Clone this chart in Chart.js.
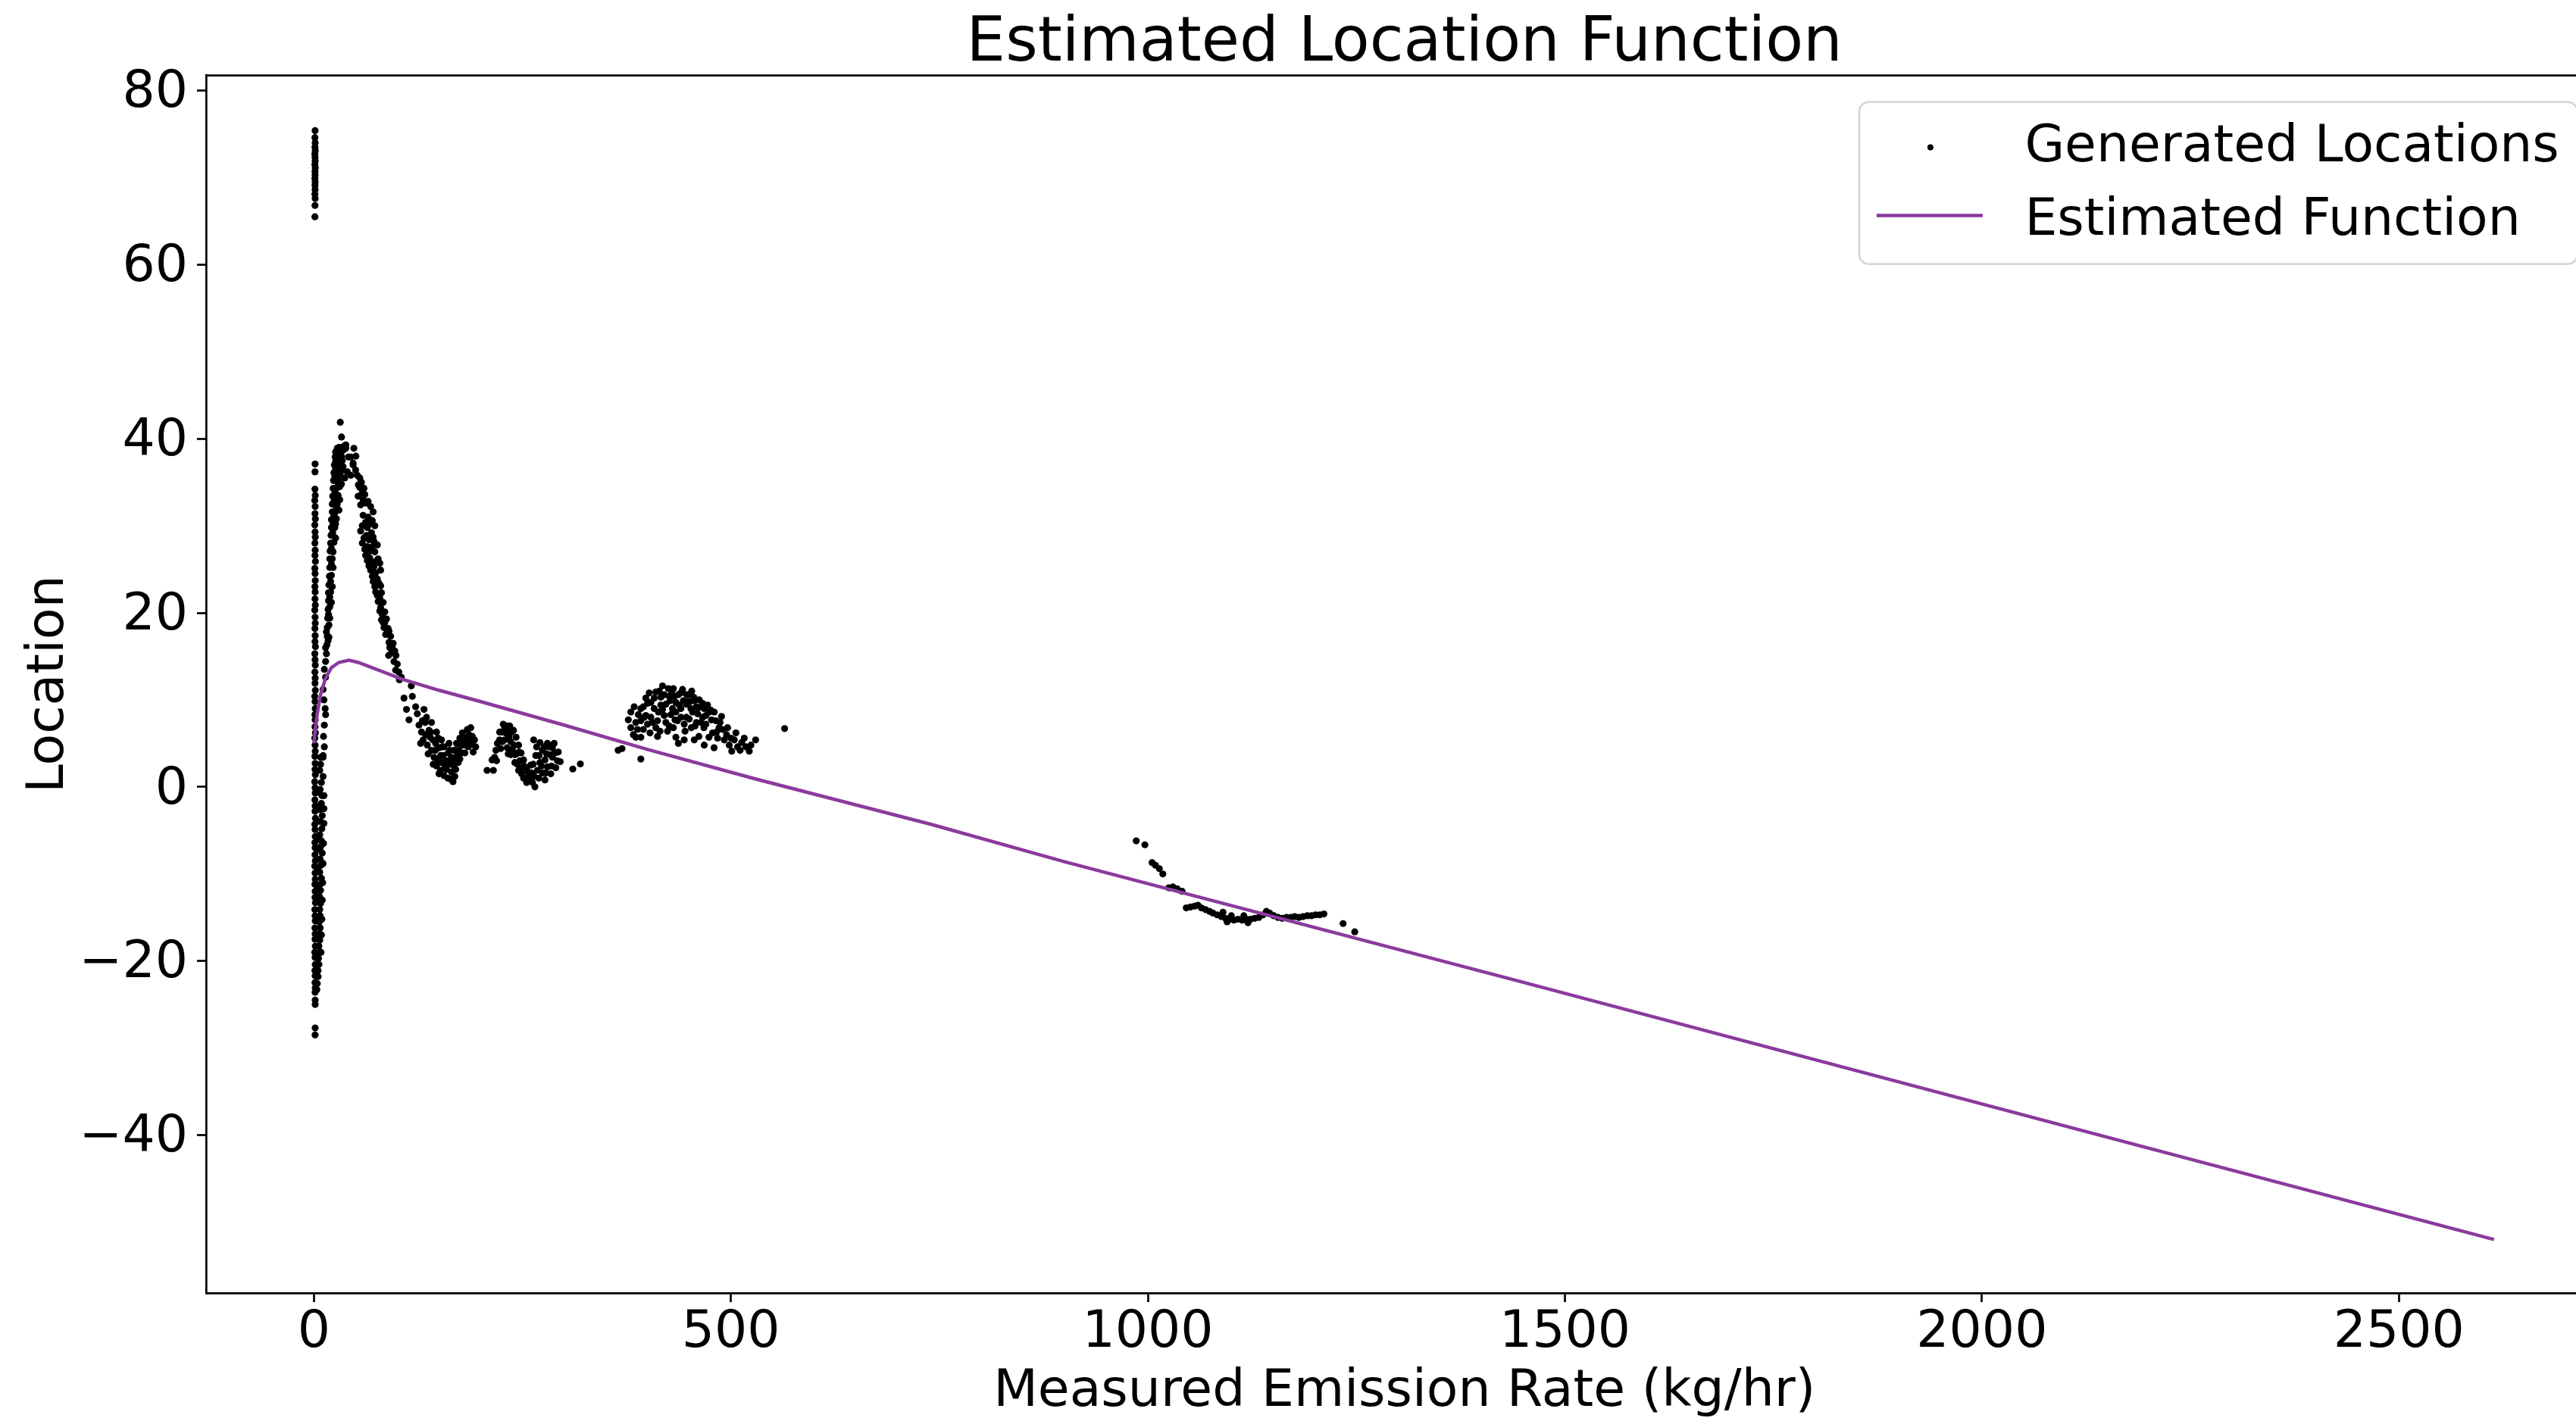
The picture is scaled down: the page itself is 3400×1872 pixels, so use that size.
<!DOCTYPE html>
<html>
<head>
<meta charset="utf-8">
<script src="https://cdn.jsdelivr.net/npm/chart.js@4.4.1/dist/chart.umd.min.js"></script>
<style>
  html, body { margin: 0; padding: 0; background: #fff; overflow: hidden; width: 3400px; height: 1872px; }
  canvas { display: block; }
</style>
</head>
<body>
<canvas id="locChart" width="3440" height="1872"></canvas>
<script>
// ---- data ----
const xTicks = [0, 500, 1000, 1500, 2000, 2500];
const yTicks = [-40, -20, 0, 20, 40, 60, 80];

// estimated function (x = emission rate, y = location)
const fnX = [0, 2, 4, 8, 14, 21, 30, 42, 53, 75, 105, 150, 200, 300, 400, 530, 740, 900, 1440, 2160, 2614];
const fnY = [5.0, 6.8, 8.4, 10.6, 12.5, 13.7, 14.3, 14.55, 14.3, 13.5, 12.4, 11.1, 9.8, 7.1, 4.3, 0.9, -4.3, -8.6, -22.2, -40.5, -52.0];

// generated locations, one array per visible group of points
const spikeTop = [[1.4,75.4],[1.2,74.6],[1.5,74.0],[1.3,73.5],[1.6,73.1],[1.1,72.7],[1.4,72.3],[1.5,71.9],[1.2,71.5],[1.6,71.1],
  [1.3,70.7],[1.4,70.3],[1.2,69.9],[1.5,69.5],[1.3,69.1],[1.4,68.6],[1.2,68.1],[1.5,67.6],[1.3,66.8],[1.2,65.5]];

const stripNearZero = [[1.4,37.1],[1.3,36.2],[1.2,34.2],[1.6,33.5],[1.0,32.9],[1.5,32.2],[1.3,31.4],[1.7,30.8],[1.1,30.1],[1.4,29.3],
  [1.6,28.7],[1.2,28.0],[1.5,27.2],[1.3,26.6],[1.8,25.9],[1.1,25.1],[1.4,24.5],[1.6,23.7],[1.2,23.0],[1.5,22.4],
  [1.3,21.6],[1.7,20.9],[1.0,20.3],[1.4,19.5],[1.6,18.8],[1.2,18.2],[1.5,17.4],[1.3,16.7],[1.8,16.1],[1.1,15.3],
  [1.4,14.6],[1.6,14.0],[1.2,13.2],[1.5,12.5],[1.3,11.9],[1.7,11.1],[1.0,10.4],[1.4,9.8],[1.6,9.0],[1.2,8.3],
  [1.5,7.7],[1.3,6.9],[1.8,6.2],[1.1,5.6],[1.4,4.8],[1.6,4.1],[1.2,3.5],[1.5,2.7],[1.3,2.0],[1.7,1.4],
  [1.0,0.6],[1.4,-0.1],[1.6,-0.7],[1.2,-1.5],[1.5,-2.2],[1.3,-2.8],[1.8,-3.6],[1.1,-4.3],[1.4,-4.9],[1.6,-5.7],
  [1.2,-6.4],[1.5,-7.0],[1.3,-7.8],[1.7,-8.5],[1.0,-9.1],[1.4,-9.9],[1.6,-10.6],[1.2,-11.2],[1.5,-12.0],[1.3,-12.7],
  [1.8,-13.3],[1.1,-14.1],[1.4,-14.8],[1.6,-15.4],[1.2,-16.2],[1.5,-16.9],[1.3,-17.5],[1.7,-18.3],[1.0,-19.0],[1.4,-19.6],
  [1.6,-20.4],[1.2,-21.1],[1.5,-21.7],[1.3,-22.5],[1.6,-23.1],[1.4,-23.6],[1.5,-24.5],[1.5,-25.0],[1.5,-27.7],[1.4,-28.5]];

const stripWide = [[11,3.4],[8,2.6],[7,1.9],[11,1.2],[9,0.5],[7.5,-0.3],[9.5,-1.0],[9,-1.9],[7,-2.6],[10,-3.3],
  [8,-4.0],[9.5,-4.8],[7,-5.5],[9,-6.2],[8,-6.9],[10,-7.6],[7.5,-8.3],[8.5,-9.0],[7,-9.8],[9,-10.5],
  [7.5,-11.2],[8,-11.9],[6.5,-12.6],[8,-13.4],[7,-14.1],[7.5,-14.8],[6.5,-15.5],[7.5,-16.2],[6.5,-16.9],[7,-17.6],
  [6,-18.3],[6.5,-19.0],[5.5,-19.7],[6,-20.4],[5,-21.1],[5,-21.8],[4,-22.6],[3.5,-23.3],
  [4,-0.6],[4.5,-2.2],[4,-3.9],[4.5,-5.9],[4,-7.2],[4.5,-9.4],[4,-11.5],[4.5,-13.0],[4,-15.1],[4.5,-17.2],
  [4,-19.3],[12,-2.5],[12,-4.2],[11.5,-6.5],[11,-8.8],[12,-1.0],[10.5,-11.0],[10,-13.0],[9.5,-15.2],[9,-17.0],[8.5,-19.0]];

const risingBranch = [[8,3.4],[11,3.6],[12.5,4.6],[11.5,5.8],[12.5,7.1],[14,8.3],[13.5,9.0],[12,10.0],[11,11.2],[14,12.6],
  [12.5,13.5],[14,14.4],[15,15.3],[15.5,16.3],[16,17.3],[16,18.3],[18,18.6],[16.5,19.4],[17,20.4],[19,20.7],
  [17.5,21.4],[17.5,22.3],[20,22.4],[18,23.2],[18.5,24.2],[21,24.3],[19,25.2],[19,26.2],[22,26.2],[19.5,27.1],
  [20,28.0],[24,28.1],[20.5,28.9],[21,29.8],[25,29.8],[21,30.7],[27,30.8],[22,31.6],[25,31.5],[22,32.5],
  [28,32.5],[22.5,33.4],[25.5,33.3],[29,33.5],[23,34.3],[27,34.3],[31,34.5],[23.5,35.2],[26,35.2],[29.5,35.3],
  [24,36.1],[28,36.1],[32,36.4],[24.5,37.0],[27,37.0],[30,37.1],[25.5,37.9],[29,37.9],[26,38.5],
  [14,16.0],[17,16.8],[15,17.8],[18,17.2],[17.5,19.8],[19,19.4],[19,21.8],[21,21.2],[20,23.6],[22,23.0],
  [21,25.6],[23,25.2],[21,27.4],[23,27.0],[22.5,29.2],[26,28.6],[23,30.2],[26,30.2],[24,31.2],[27,32.0],
  [30,31.8],[24,32.8],[27,33.1],[31,33.0],[25,34.0],[29,34.6],[33,34.8],[25,35.7],[28,35.4],[31,35.9],
  [26,36.6],[30,36.5],[33,36.3],[26,37.4],[28.5,37.4],[32,37.6],[27,38.2],[31,38.3],[28,38.9],[33,39.0],[34,37.5]];

const peakTop = [[31.6,41.9],[33.1,40.2],[36.7,39.2],[38.3,39.3],[35.2,38.7],[38.3,38.9],[41.3,37.9],[40,36.2],[44.3,35.8],
  [47.9,38.9],[50.3,38.0],[33,38.0],[35,36.8],[37,35.5],[30,39.0],[47,37.0]];

const fallingBranch = [[44.3,37.9],[53.3,34.7],[55,35.5],[58,33.8],[56,32.4],[62,32.6],[68,32.2],[59,31.2],[65,31.0],[70,30.6],
  [58,30.0],[64,29.8],[69,29.2],[60,28.6],[66,28.4],[72,28.2],[61,27.3],[67,27.1],[73,27.0],[64,26.0],
  [70,25.8],[77,26.2],[68,24.9],[74,24.6],[80,24.9],[71,23.6],[78,23.4],[74,22.4],[81,22.3],[77,21.3],
  [83,21.2],[79,20.2],[85,20.1],[81,19.2],[87,19.3],[84,18.3],[89,18.2],[86,17.5],[92,17.3],[90,16.6],
  [95,16.5],[89.6,15.1],[93,15.4],[98.4,15.1],[96,14.4],[100,14.1],[98,13.4],[101.8,13.2],[104.8,12.6],[102.5,12.3],
  [116.8,11.6],[108,10.2],[111,8.9],[114,7.7],[122,9.2],[124,8.4],[118,10.4],
  [47,37.2],[50,36.4],[52,35.8],[55,34.4],[57,35.0],[60,34.3],[53,33.4],[59,33.0],[61,33.6],[65,32.8],
  [71,31.6],[62,30.4],[67,30.2],[73,30.0],[56,29.4],[63,28.9],[71,28.7],[58,28.0],[64,27.6],[70,27.6],
  [76,27.8],[62,26.6],[67,26.3],[74,25.9],[66,25.4],[72,25.3],[79,25.7],[70,24.2],[76,23.9],[73,23.0],
  [80,23.1],[76,22.0],[79,21.7],[80,20.6],[82,19.8],[85,18.9],[83,18.9],[88,17.8],[90,17.9],[94,16.0],
  [97,15.6],[91,16.0]];

const troughOne = [[126,7.1],[129,6.3],[131,5.4],[132,8.9],[133.5,7.4],[135,8.0],[136,4.8],[138,6.5],[139.5,5.7],[141,7.4],
  [141,4.2],[142.6,5.4],[144,3.4],[145.6,4.2],[147,6.3],[147,2.4],[148.6,3.1],[150,4.5],[150,1.5],[151.7,1.9],
  [153,5.4],[153,2.8],[155,3.6],[156,1.3],[156,4.6],[158,2.9],[159,2.0],[160.7,1.0],[161,3.9],[162,5.0],
  [163,2.6],[165,1.7],[165,3.4],[166.8,0.6],[168,2.4],[168,4.2],[170,3.2],[171,5.0],[173,2.8],[174,4.2],
  [175,5.6],[177,3.9],[178,6.2],[180,4.8],[182,5.6],[184,6.6],[186,6.0],[188,6.8],[190,5.8],[192.5,5.4],
  [194,4.6],[191,4.0],[189,4.9],
  [128,5.0],[130,7.6],[134,6.0],[137,3.8],[140,6.3],[143,2.6],[146,5.0],[149,5.6],[152,3.6],[154,4.6],
  [157,2.2],[160,3.0],[163,4.2],[164,0.9],[167,3.0],[169,1.2],[170,4.2],[172,3.6],[176,4.8],[179,5.4],
  [181,3.9],[183,5.0],[185,4.6],[187,5.4],[170,2.0],[175,3.2]];

const troughTwo = [[207.6,1.9],[215.2,1.9],[213.6,3.1],[216.7,3.4],[218.2,4.2],[220,5.0],[222.7,5.4],[222.7,6.3],[225.7,6.3],[226,5.2],
  [228.8,6.8],[228.8,5.4],[231,7.0],[231.8,4.5],[234.8,7.0],[234,5.8],[236.3,3.7],[237,6.3],[239.3,6.5],[240,4.8],
  [240.9,2.8],[242.4,5.7],[243,3.8],[245.4,4.8],[245.4,1.9],[247,3.0],[248.4,3.9],[250,2.2],[251.4,3.1],[251.4,1.0],
  [254.5,2.2],[255,0.5],[257.5,1.3],[260,2.5],[262,0.5],[265,0.0],[263.5,5.4],[266,3.6],[268,1.9],[269.6,1.0],
  [271,5.1],[271,2.8],[274,1.6],[274,4.2],[277,3.1],[277,0.8],[280,5.0],[280,2.3],[283,3.7],[286,4.5],
  [286,3.4],[289,3.9],[292,3.0],[295.3,2.9],[288,5.0],[284,1.5],[310.4,2.05],[319.5,2.64],
  [219,3.0],[224,4.4],[227,7.2],[230,6.2],[233,6.4],[233,3.8],[236,5.2],[238,4.3],[241,3.7],[244,2.6],
  [246,4.0],[249,1.5],[252,2.4],[256,1.8],[259,0.8],[261,1.6],[264,1.2],[267,4.6],[270,3.6],[273,2.4],
  [276,4.6],[279,3.8],[282,4.6],[285,2.4],[290,2.2],[293,4.0],[278,1.6],[263,2.6]];

const humpMid = [[364.8,4.2],[369.4,4.4],[392,3.2],[377,7.7],[380,6.8],[383,6.0],[386,5.7],[392,5.7],[386,7.4],[389,8.3],
  [392,9.0],[395,9.2],[395,6.6],[404,9.7],[404,8.0],[410,6.8],[413,8.6],[416,10.3],[422,9.5],[422,7.4],
  [425,11.3],[431,11.3],[431,6.8],[434,9.7],[434,8.6],[434,5.7],[437,10.6],[437,5.0],[440,8.0],[443,9.9],
  [446.5,9.5],[446.5,8.0],[449.5,10.6],[452.5,6.8],[455.5,10.3],[458.6,9.2],[458.6,7.4],[461.6,5.8],[464.6,9.2],[467.6,6.8],
  [470,8.2],[473.7,5.7],[476.7,7.7],[479.8,4.5],[482.8,6.3],[485.8,6.8],[488.8,8.1],[492,5.4],[494.8,6.0],[498,4.8],
  [501,4.1],[504,5.4],[508,4.6],[513,5.1],[518,4.6],[522,4.1],[529.6,5.4],[564.4,6.7],[400,7.2],[418,8.9],
  [428,8.3],[452,9.0],[466,8.0],[427,9.9],[400,9.6],[408,9.0],[408,10.2],[412,7.6],[416,9.4],[420,10.6],
  [420,8.2],[426,10.4],[426,7.0],[430,9.0],[432,10.4],[436,7.6],[440,10.8],[440,9.0],[444,7.2],[448,9.8],
  [450,7.8],[454,8.6],[456,9.9],[460,8.4],[462,10.0],[466,9.6],[470,7.2],[474,8.6],[478,6.2],[482,7.6],
  [398,8.2],[403,6.2],[415,6.4],[445,6.4],
  [380,8.6],[384,9.2],[388,6.6],[398,10.2],[402,10.8],[406,7.4],[410,10.9],[414,11.0],[418,11.6],[424,6.4],
  [429,10.8],[433,7.7],[438,9.4],[442,11.2],[447,10.6],[451,9.8],[453,11.0],[457,7.0],[461,9.1],[464,7.4],
  [468,9.0],[472,9.4],[476,8.8],[480,8.6],[484,5.6],[487,7.4],[490,6.6],[496,6.8],[500,5.6],[506,6.2],
  [511,4.2],[516,5.6],[524,4.8],[392,7.6],[396,8.0],[412,5.8],[444,5.4],[456,5.4],[468,4.8]];

const tailLow = [[986,-6.2],[996.4,-6.65],[1005,-8.7],[1009,-9.0],[1013.7,-9.4],[1017.9,-10.0],[1025,-11.6],[1030,-11.5],[1035,-11.7],[1041,-12.0],
  [1046,-13.9],[1051,-13.8],[1056,-13.7],[1060,-13.6],[1064,-13.9],[1069,-14.1],[1074,-14.3],[1078,-14.5],[1083,-14.7],[1088,-14.9],
  [1093,-15.1],[1098,-15.2],[1103,-15.3],[1108,-15.2],[1113,-15.3],[1118,-15.2],[1123,-15.2],[1128,-15.1],[1133,-15.0],[1138,-14.7],
  [1142,-14.3],[1146,-14.5],[1151,-14.8],[1156,-15.0],[1161,-15.1],[1166,-15.0],[1171,-15.0],[1176,-14.9],[1181,-15.0],[1186,-14.9],
  [1191,-14.8],[1196,-14.8],[1201,-14.7],[1206,-14.7],[1211,-14.6],[1234,-15.7],[1248,-16.65],[1090,-14.4],[1100,-14.8],[1115,-14.8],
  [1095,-15.5],[1120,-15.6]];

const xMin = -129.3, xMax = 2744.5;
const yMin = -58.15, yMax = 81.74;
const FONT = "'DejaVu Sans', sans-serif";
const purple = '#8b3a9d';

const generated = [].concat(spikeTop, stripNearZero, stripWide, risingBranch, peakTop, fallingBranch,
  troughOne, troughTwo, humpMid, tailLow).map(p => ({x: p[0], y: p[1]}));
const fnPoints = fnX.map((x, i) => ({x: x, y: fnY[i]}));

function tickText(v) {
  return v < 0 ? '\u2212' + Math.abs(v) : String(v);
}

// top + right spines
const frame = {
  id: 'frame',
  afterDatasetsDraw(chart) {
    const ctx = chart.ctx, a = chart.chartArea;
    ctx.save();
    ctx.strokeStyle = '#000';
    ctx.lineWidth = 2.7;
    ctx.beginPath();
    ctx.moveTo(a.left, a.top);
    ctx.lineTo(a.right, a.top);
    ctx.lineTo(a.right, a.bottom);
    ctx.stroke();
    ctx.restore();
  }
};

// legend inside the axes, upper right
const legendBox = {
  id: 'legendBox',
  afterDraw(chart) {
    const ctx = chart.ctx, a = chart.chartArea;
    const ds = chart.data.datasets;
    const w = 948, h = 214;
    const right = a.right - 33.5, top = a.top + 35;
    const left = right - w;
    ctx.save();
    ctx.beginPath();
    ctx.roundRect(left, top, w, h, 13);
    ctx.fillStyle = 'rgba(255,255,255,0.8)';
    ctx.fill();
    ctx.lineWidth = 2.7;
    ctx.strokeStyle = '#d6d6d6';
    ctx.stroke();

    const rows = [top + 53, top + 150];
    ctx.fillStyle = ds[0].pointBackgroundColor;
    ctx.beginPath();
    ctx.arc(left + 94, rows[0] + 7, 4, 0, Math.PI * 2);
    ctx.fill();

    ctx.strokeStyle = ds[1].borderColor;
    ctx.lineWidth = ds[1].borderWidth;
    ctx.beginPath();
    ctx.moveTo(left + 23, rows[1]);
    ctx.lineTo(left + 163, rows[1]);
    ctx.stroke();

    ctx.fillStyle = '#000';
    ctx.font = '68px ' + FONT;
    ctx.textAlign = 'left';
    ctx.textBaseline = 'alphabetic';
    ds.forEach((d, i) => ctx.fillText(d.label, left + 218.5, rows[i] + 25));
    ctx.restore();
  }
};

Chart.defaults.font.family = FONT;
Chart.defaults.color = '#000';

const ctx = document.getElementById('locChart').getContext('2d');
new Chart(ctx, {
  type: 'scatter',
  data: {
    datasets: [{
      label: 'Generated Locations',
      data: generated,
      pointRadius: 4.6,
      pointHoverRadius: 4.6,
      pointBorderWidth: 0,
      pointBackgroundColor: '#000',
      backgroundColor: '#000',
      borderColor: '#000',
      order: 2
    }, {
      label: 'Estimated Function',
      data: fnPoints,
      showLine: true,
      borderColor: purple,
      backgroundColor: purple,
      borderWidth: 4.5,
      pointRadius: 0,
      tension: 0,
      fill: false,
      order: 1
    }]
  },
  options: {
    responsive: false,
    devicePixelRatio: 1,
    animation: false,
    events: [],
    layout: { padding: 0 },
    plugins: {
      legend: { display: false },
      tooltip: { enabled: false },
      title: {
        display: true,
        text: 'Estimated Location Function',
        fullSize: false,
        color: '#000',
        font: { family: FONT, size: 81.6, weight: 'normal', lineHeight: 1 },
        padding: { top: 18, bottom: 0 }
      }
    },
    scales: {
      x: {
        type: 'linear',
        min: xMin,
        max: xMax,
        afterFit(s) { s.height = 165; },
        afterBuildTicks(s) { s.ticks = xTicks.map(v => ({value: v})); },
        ticks: {
          color: '#000',
          font: { family: FONT, size: 68, lineHeight: 1 },
          padding: 7,
          maxRotation: 0,
          callback: tickText
        },
        grid: { display: true, drawOnChartArea: false, drawTicks: true, tickLength: 12, tickWidth: 2.7, tickColor: '#000' },
        border: { display: true, color: '#000', width: 2.7 },
        title: {
          display: true,
          text: 'Measured Emission Rate (kg/hr)',
          color: '#000',
          font: { family: FONT, size: 68, lineHeight: 1 },
          padding: { top: 0, bottom: 0 }
        }
      },
      y: {
        type: 'linear',
        min: yMin,
        max: yMax,
        afterFit(s) { s.width = 272; },
        afterBuildTicks(s) { s.ticks = yTicks.map(v => ({value: v})); },
        ticks: {
          color: '#000',
          font: { family: FONT, size: 68, lineHeight: 1 },
          padding: 12,
          labelOffset: 4,
          callback: tickText
        },
        grid: { display: true, drawOnChartArea: false, drawTicks: true, tickLength: 12, tickWidth: 2.7, tickColor: '#000' },
        border: { display: true, color: '#000', width: 2.7 },
        title: {
          display: true,
          text: 'Location',
          color: '#000',
          font: { family: FONT, size: 68, lineHeight: 1 },
          padding: { top: 31, bottom: 0 }
        }
      }
    }
  },
  plugins: [frame, legendBox]
});
</script>
</body>
</html>
